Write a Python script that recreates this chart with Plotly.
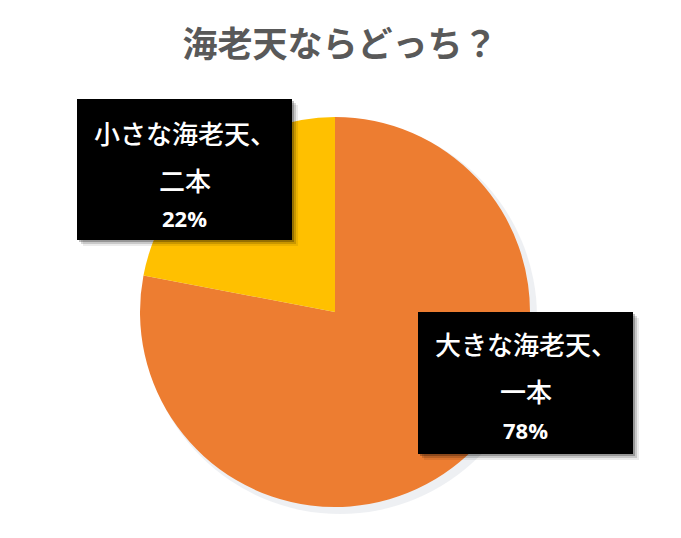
import plotly.graph_objects as go

# data
labels = ['大きな海老天、一本', '小さな海老天、二本']
values = [78, 22]
colors = ['#ED7D31', '#FFC000']
box_lines = [['大きな海老天、', '一本', '78%'], ['小さな海老天、', '二本', '22%']]

W, H = 681, 538
font_jp = 'Noto Sans CJK JP'


def px(x):
    return x / W


def py(y):
    return 1 - y / H


# pie position in pixels (center and radius)
cx, cy, r = 335, 312, 195

fig = go.Figure()

# soft shadow under the pie
fig.add_trace(go.Pie(values=[sum(values)],
                     marker=dict(colors=['rgba(120,140,160,0.13)']),
                     textinfo='none', hoverinfo='skip', showlegend=False,
                     domain=dict(x=[px(cx - r + 3), px(cx + r + 7)],
                                 y=[py(cy + r + 7), py(cy - r + 3)])))

fig.add_trace(go.Pie(labels=labels, values=values,
                     marker=dict(colors=colors, line=dict(width=0)),
                     sort=False, direction='clockwise', rotation=0,
                     textinfo='none', showlegend=False,
                     domain=dict(x=[px(cx - r), px(cx + r)],
                                 y=[py(cy + r), py(cy - r)])))

# label boxes (left, top, right, bottom) in pixels + text line centers
boxes = [(418, 312, 633, 454, [343, 390, 430]),
         (77, 99, 292, 240, [133, 180, 218])]

shapes = []
annotations = []
for (x0, y0, x1, y1, ys), lines in zip(boxes, box_lines):
    # shadow
    for k, a in [(6, 0.08), (4, 0.15), (2, 0.25)]:
        shapes.append(dict(type='rect', xref='paper', yref='paper',
                           x0=px(x0 + k), x1=px(x1 + k), y0=py(y1 + k), y1=py(y0 + k),
                           fillcolor='rgba(0,0,0,%s)' % a, line=dict(width=0), layer='above'))
    shapes.append(dict(type='rect', xref='paper', yref='paper',
                       x0=px(x0), x1=px(x1), y0=py(y1), y1=py(y0),
                       fillcolor='black', line=dict(width=0), layer='above'))
    for i, (t, yy) in enumerate(zip(lines, ys)):
        if i == 2:
            f = dict(family='Open Sans', size=22, color='white')
            t = '<b>' + t + '</b>'
        else:
            f = dict(family=font_jp, size=26, color='white', weight=500)
        annotations.append(dict(text=t, x=px((x0 + x1) / 2), y=py(yy),
                                xref='paper', yref='paper', showarrow=False,
                                xanchor='center', yanchor='middle', font=f))

fig.update_layout(width=W, height=H,
                  margin=dict(l=0, r=0, t=0, b=0),
                  paper_bgcolor='white', plot_bgcolor='white',
                  title=dict(text='<b>海老天ならどっち？</b>', x=px(340), xanchor='center',
                             y=py(45), yanchor='middle',
                             font=dict(family=font_jp, size=35, color='#595959')),
                  shapes=shapes, annotations=annotations)

# page body has an 8px margin by default, drop it so the figure fills the window
fig.write_html("out.html", config={'displayModeBar': False},
               post_script="document.body.style.margin='0';")
